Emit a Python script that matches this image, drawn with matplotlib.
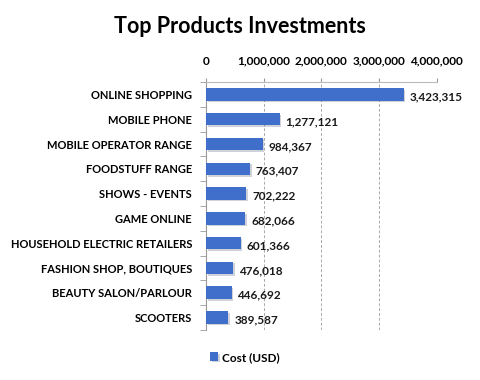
import matplotlib.pyplot as plt
import matplotlib.patheffects as pe
from matplotlib.ticker import FuncFormatter

plt.rcParams['font.family'] = ['Lato', 'DejaVu Sans']

categories = ['ONLINE SHOPPING', 'MOBILE PHONE', 'MOBILE OPERATOR RANGE',
              'FOODSTUFF RANGE', 'SHOWS - EVENTS', 'GAME ONLINE',
              'HOUSEHOLD ELECTRIC RETAILERS', 'FASHION SHOP, BOUTIQUES',
              'BEAUTY SALON/PARLOUR', 'SCOOTERS']
cost = [3423315, 1277121, 984367, 763407, 702222, 682066,
        601366, 476018, 446692, 389587]
x_ticks = [0, 1000000, 2000000, 3000000, 4000000]

fig = plt.figure(figsize=(4.8, 3.8), dpi=100)
ax = fig.add_axes([0.429, 0.132, 0.481, 0.652])

ypos = list(range(len(categories)))
bars = ax.barh(ypos, cost, height=0.5, color='#3F6FCB', label='Cost (USD)',
               zorder=3)
for b in bars:
    b.set_path_effects([pe.SimplePatchShadow(offset=(1.2, -1.2), alpha=0.2),
                        pe.Normal()])

for y, v in zip(ypos, cost):
    ax.text(v + 100000, y + 0.1, format(v, ','), va='center', ha='left',
            fontsize=8.5, fontweight='bold', color='#1a1a1a')

ax.set_ylim(len(categories) - 0.5, -0.5)
ax.set_xlim(0, 4000000)
ax.set_xticks(x_ticks)
ax.xaxis.set_major_formatter(FuncFormatter(lambda v, p: format(int(v), ',')))
ax.xaxis.tick_top()
ax.tick_params(axis='x', length=3, color='#999999', labelsize=8.5, pad=8)
for lab in ax.get_xticklabels():
    lab.set_fontweight('bold')

ax.set_yticks(ypos)
ax.set_yticklabels(categories, fontsize=8, fontweight='bold')
ax.set_yticks([i + 0.5 for i in range(-1, len(categories))], minor=True)
ax.tick_params(axis='y', which='major', length=0, pad=10)
ax.tick_params(axis='y', which='minor', length=4, color='#999999')

ax.grid(axis='x', linestyle=(0, (3, 2)), color='#aaaaaa', linewidth=0.7, zorder=0)
for s in ['right', 'bottom']:
    ax.spines[s].set_visible(False)
ax.spines['left'].set_color('#999999')
ax.spines['top'].set_color('#bbbbbb')

fig.text(0.5, 0.93, 'Top Products Investments', ha='center', va='center',
         fontsize=15.5, fontweight='bold')
fig.legend(loc='center', bbox_to_anchor=(0.51, 0.06), frameon=False,
           prop={'size': 8.5, 'weight': 'bold'},
           handlelength=0.7, handleheight=0.7, handletextpad=0.3)

fig.savefig('out.png', dpi=100)
